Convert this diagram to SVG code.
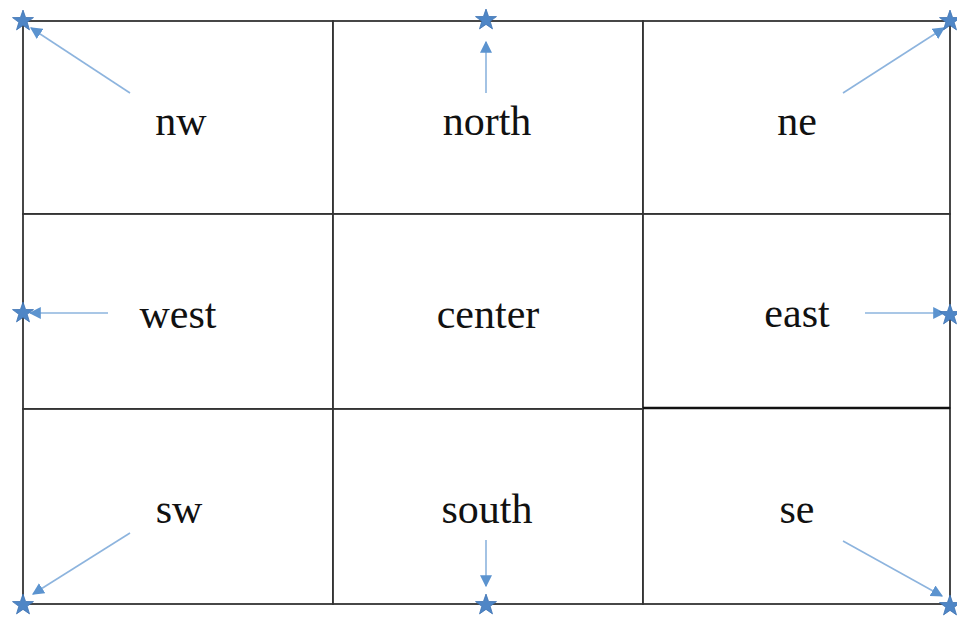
<svg xmlns="http://www.w3.org/2000/svg" width="957" height="619" viewBox="0 0 957 619">
<style>
.cell{fill:#fff;stroke:#333;stroke-width:1.8}
.arr{stroke:#8db4de;stroke-width:1.6;fill:none;marker-end:url(#ah)}
.star{fill:#4f86c6;stroke:#3f74b4;stroke-width:0.8}
</style>
<defs>
<marker id="ah" viewBox="0 0 10 10" refX="9" refY="5" markerWidth="12" markerHeight="12" markerUnits="userSpaceOnUse" orient="auto">
<path d="M0,0 L10,5 L0,10 Z" fill="#5b93cf"/>
</marker>
<path id="st" d="M0,-11 L2.6,-3.5 L10.5,-3.4 L4.2,1.3 L6.5,8.9 L0,4.4 L-6.5,8.9 L-4.2,1.3 L-10.5,-3.4 L-2.6,-3.5 Z"/>
</defs>
<rect width="957" height="619" fill="#fff"/>
<g font-family="Liberation Serif, Times New Roman, serif" font-size="42" fill="#111" text-anchor="middle">
<g id="nw"><rect class="cell" x="23" y="21" width="310" height="193"/><text x="181" y="135">nw</text></g>
<g id="north"><rect class="cell" x="333" y="21" width="310" height="193"/><text x="487" y="135">north</text></g>
<g id="ne"><rect class="cell" x="643" y="21" width="307" height="193"/><text x="797" y="135">ne</text></g>
<g id="west"><rect class="cell" x="23" y="214" width="310" height="195"/><text x="178" y="328">west</text></g>
<g id="center"><rect class="cell" x="333" y="214" width="310" height="195"/><text x="488" y="328">center</text></g>
<g id="east"><rect class="cell" x="643" y="214" width="307" height="194"/><text x="797" y="327">east</text></g>
<g id="sw"><rect class="cell" x="23" y="409" width="310" height="195"/><text x="179" y="523">sw</text></g>
<g id="south"><rect class="cell" x="333" y="409" width="310" height="195"/><text x="487" y="523">south</text></g>
<g id="se"><rect class="cell" x="643" y="408" width="307" height="196"/><text x="797" y="523">se</text></g>
</g>
<line x1="643" y1="408" x2="950" y2="408" stroke="#111" stroke-width="2.5"/>
<g id="connectors">
<line class="arr" x1="130" y1="93" x2="31" y2="28"/>
<line class="arr" x1="486" y1="93" x2="486" y2="42"/>
<line class="arr" x1="843" y1="93" x2="944" y2="28"/>
<line class="arr" x1="108" y1="313" x2="30" y2="313"/>
<line class="arr" x1="865" y1="313" x2="944" y2="313"/>
<line class="arr" x1="130" y1="533" x2="33" y2="594"/>
<line class="arr" x1="486" y1="540" x2="486" y2="586"/>
<line class="arr" x1="843" y1="541" x2="942" y2="596"/>
</g>
<g id="anchors">
<use href="#st" class="star" x="23" y="21"/>
<use href="#st" class="star" x="486" y="20"/>
<use href="#st" class="star" x="950" y="21"/>
<use href="#st" class="star" x="23" y="313"/>
<use href="#st" class="star" x="950" y="315"/>
<use href="#st" class="star" x="23" y="605"/>
<use href="#st" class="star" x="486" y="605"/>
<use href="#st" class="star" x="950" y="606"/>
</g>
</svg>
